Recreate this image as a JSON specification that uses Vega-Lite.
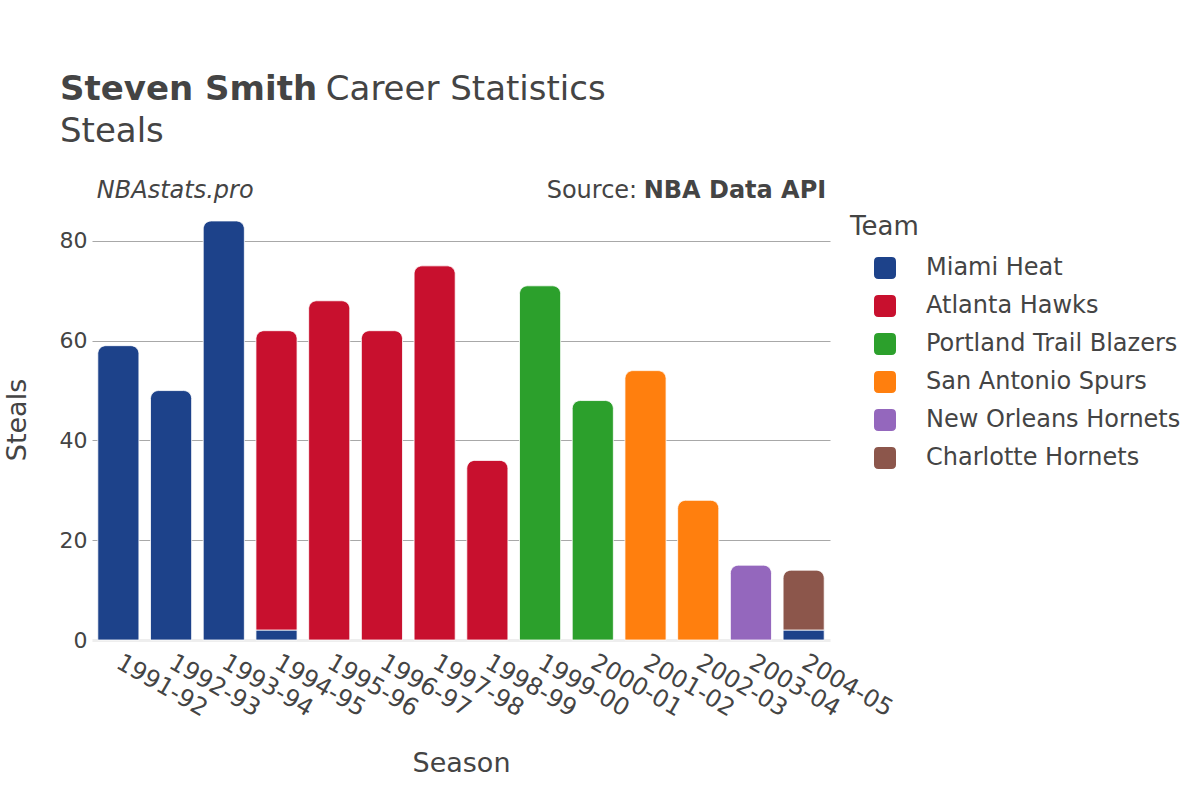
{
  "$schema": "https://vega.github.io/schema/vega-lite/v6.json",
  "width": 738,
  "height": 441,
  "autosize": {"type": "none"},
  "padding": {"left": 92, "top": 199, "right": 370, "bottom": 160},
  "background": "white",
  "config": {"font": "DejaVu Sans", "view": {"stroke": null}},
  "title": {
    "text": "Steven Smith",
    "subtitle": ["\u200b\u2003\u2003\u2003\u2003\u2003\u2003\u2003\u2002\u00a0Career Statistics", "Steals"],
    "anchor": "start",
    "frame": "group",
    "dx": -32,
    "offset": 30,
    "fontSize": 34,
    "fontWeight": "bold",
    "color": "#444444",
    "subtitleFontSize": 34,
    "subtitleColor": "#444444",
    "subtitleFontWeight": "normal",
    "subtitleLineHeight": 42,
    "subtitlePadding": -34
  },
  "data": {
    "values": [
      {"Season": "1991-92", "Team": "Miami Heat", "Steals": 59},
      {"Season": "1992-93", "Team": "Miami Heat", "Steals": 50},
      {"Season": "1993-94", "Team": "Miami Heat", "Steals": 84},
      {"Season": "1994-95", "Team": "Miami Heat", "Steals": 2},
      {"Season": "1994-95", "Team": "Atlanta Hawks", "Steals": 60},
      {"Season": "1995-96", "Team": "Atlanta Hawks", "Steals": 68},
      {"Season": "1996-97", "Team": "Atlanta Hawks", "Steals": 62},
      {"Season": "1997-98", "Team": "Atlanta Hawks", "Steals": 75},
      {"Season": "1998-99", "Team": "Atlanta Hawks", "Steals": 36},
      {"Season": "1999-00", "Team": "Portland Trail Blazers", "Steals": 71},
      {"Season": "2000-01", "Team": "Portland Trail Blazers", "Steals": 48},
      {"Season": "2001-02", "Team": "San Antonio Spurs", "Steals": 54},
      {"Season": "2002-03", "Team": "San Antonio Spurs", "Steals": 28},
      {"Season": "2003-04", "Team": "New Orleans Hornets", "Steals": 15},
      {"Season": "2004-05", "Team": "Miami Heat", "Steals": 2},
      {"Season": "2004-05", "Team": "Charlotte Hornets", "Steals": 12}
    ]
  },
  "layer": [
    {
      "transform": [
        {"stack": "Steals", "groupby": ["Season"], "sort": [{"field": "Team", "order": "descending"}], "as": ["y0", "y1"]},
        {"joinaggregate": [{"op": "max", "field": "y1", "as": "topv"}], "groupby": ["Season"]},
        {"filter": "datum.y1 < datum.topv"}
      ],
      "mark": {"type": "bar", "stroke": "white", "strokeWidth": 0.8},
      "encoding": {
        "x": {"field": "Season", "type": "nominal"},
        "y": {"field": "y1", "type": "quantitative"},
        "y2": {"field": "y0"},
        "color": {"field": "Team", "type": "nominal"}
      }
    },
    {
      "transform": [
        {"stack": "Steals", "groupby": ["Season"], "sort": [{"field": "Team", "order": "descending"}], "as": ["y0", "y1"]},
        {"joinaggregate": [{"op": "max", "field": "y1", "as": "topv"}], "groupby": ["Season"]},
        {"filter": "datum.y1 >= datum.topv"}
      ],
      "mark": {"type": "bar", "stroke": "white", "strokeWidth": 0.8, "cornerRadiusTopLeft": 8, "cornerRadiusTopRight": 8},
      "encoding": {
        "x": {
          "field": "Season", "type": "nominal",
          "scale": {"paddingInner": 0.22, "paddingOuter": 0.11},
          "axis": {
            "title": "Season", "titleFontSize": 27, "titleFontWeight": "normal", "titleColor": "#444444", "titlePadding": 30,
            "labelAngle": 30, "labelAlign": "left", "labelBaseline": "top", "labelFontSize": 24, "labelColor": "#444444", "labelPadding": 10, "labelOffset": 6,
            "domain": false, "ticks": false, "grid": false
          }
        },
        "y": {
          "field": "y1", "type": "quantitative",
          "scale": {"domain": [0, 88.4], "nice": false, "zero": true},
          "axis": {
            "title": "Steals", "titleFontSize": 27, "titleFontWeight": "normal", "titleColor": "#444444", "titlePadding": 28,
            "values": [0, 20, 40, 60, 80], "labelFontSize": 22, "labelColor": "#444444", "labelPadding": 5,
            "domain": false, "ticks": false,
            "gridColor": {"condition": {"test": "datum.value === 0", "value": "#eeeeee"}, "value": "#a8a8a8"},
            "gridWidth": {"condition": {"test": "datum.value === 0", "value": 3}, "value": 1}
          }
        },
        "y2": {"field": "y0"},
        "color": {
          "field": "Team", "type": "nominal",
          "scale": {
            "domain": ["Miami Heat", "Atlanta Hawks", "Portland Trail Blazers", "San Antonio Spurs", "New Orleans Hornets", "Charlotte Hornets"],
            "range": ["#1d428a", "#c8102e", "#2ca02c", "#ff7f0e", "#9467bd", "#8c564b"]
          },
          "legend": {
            "title": "Team", "orient": "none", "legendX": 758, "legendY": 15,
            "titleFontSize": 26, "titleFontWeight": "normal", "titleColor": "#444444", "titlePadding": 16,
            "labelFontSize": 24, "labelColor": "#444444", "labelOffset": 29, "labelLimit": 400,
            "symbolType": "M -0.6 -1 L 0.6 -1 Q 1 -1 1 -0.6 L 1 0.6 Q 1 1 0.6 1 L -0.6 1 Q -1 1 -1 0.6 L -1 -0.6 Q -1 -1 -0.6 -1 Z",
            "symbolSize": 484, "symbolOffset": 23, "symbolStrokeWidth": 0, "symbolOpacity": 1,
            "rowPadding": 14, "padding": 0
          }
        }
      }
    },
    {
      "data": {"values": [{"t": "NBAstats.pro"}]},
      "mark": {"type": "text", "align": "left", "baseline": "alphabetic", "fontSize": 24, "fontStyle": "italic", "color": "#444444", "dx": -1, "dy": -1},
      "encoding": {
        "x": {"datum": "1991-92", "type": "nominal", "bandPosition": 0},
        "y": {"datum": 88.4, "type": "quantitative"},
        "text": {"field": "t"}
      }
    },
    {
      "data": {"values": [{"t": "NBA Data API"}]},
      "mark": {"type": "text", "align": "right", "baseline": "alphabetic", "fontSize": 24, "fontWeight": "bold", "color": "#444444", "dx": 2, "dy": -1},
      "encoding": {
        "x": {"datum": "2004-05", "type": "nominal", "bandPosition": 1},
        "y": {"datum": 88.4, "type": "quantitative"},
        "text": {"field": "t"}
      }
    },
    {
      "data": {"values": [{"t": "Source:"}]},
      "mark": {"type": "text", "align": "right", "baseline": "alphabetic", "fontSize": 24, "color": "#444444", "dx": -187, "dy": -1},
      "encoding": {
        "x": {"datum": "2004-05", "type": "nominal", "bandPosition": 1},
        "y": {"datum": 88.4, "type": "quantitative"},
        "text": {"field": "t"}
      }
    }
  ]
}
